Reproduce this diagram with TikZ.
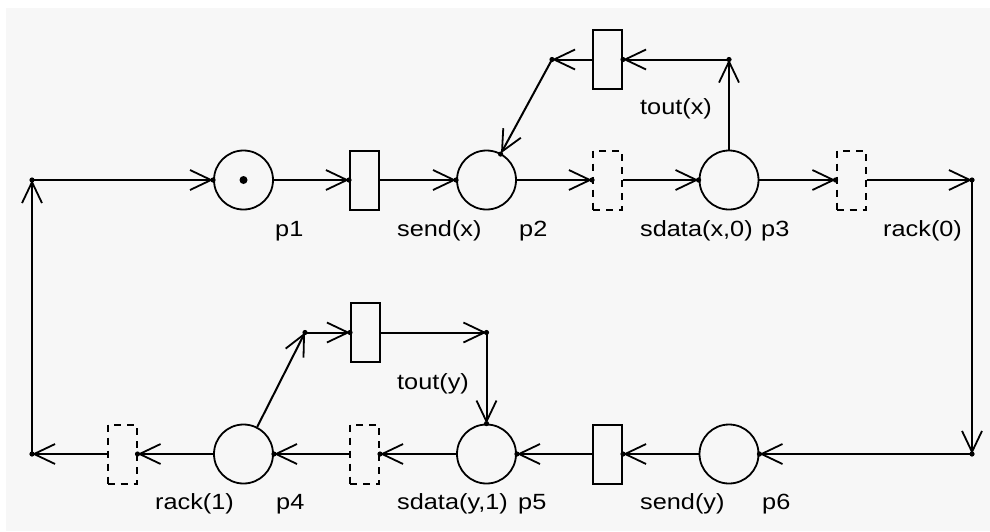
\documentclass[tikz,border=0pt]{standalone}
\usepackage{fontspec}
\setmainfont{Liberation Sans}[FakeStretch=1.15]
\usetikzlibrary{arrows.meta,calc}
\definecolor{bgc}{HTML}{F7F7F7}
\begin{document}
\begin{tikzpicture}[x=1pt,y=-1pt,
  place/.style={circle,draw,line width=1.8pt,minimum size=59pt,inner sep=0pt},
  trans/.style={rectangle,draw,line width=2pt,minimum width=29pt,minimum height=59pt,inner sep=0pt},
  ghost/.style={trans,dash pattern=on 7pt off 6pt},
  arc/.style={line width=2pt,-{Straight Barb[length=21pt,width=20pt,line width=1.8pt]}},
  lbl/.style={anchor=base west,inner sep=0pt,font=\fontsize{22}{26}\selectfont}]
\useasboundingbox (0,0) rectangle (990,531);
\fill[bgc] (6,8) rectangle (990,531);
% nodes
\node[place] (p1) at (243.5,180) {};
\fill (p1.center) circle (4);
\node[trans] (sendx) at (364.5,180) {};
\node[place] (p2) at (486.5,180) {};
\node[ghost] (sdx) at (607.5,180) {};
\node[place] (p3) at (729,180) {};
\node[ghost] (rack0) at (851,180) {};
\node[trans] (toutx) at (607.5,59.5) {};
\node[place] (p6) at (729,454) {};
\node[trans] (sendy) at (607.5,454) {};
\node[place] (p5) at (486.5,454) {};
\node[ghost] (sdy) at (364.5,454) {};
\node[place] (p4) at (243.5,454) {};
\node[ghost] (rack1) at (122,454) {};
\node[trans] (touty) at (365.5,332.5) {};
% corners
\coordinate (cTL) at (32,180);
\coordinate (cTR) at (972,180);
\coordinate (cBR) at (972,454);
\coordinate (cBL) at (32,454);
\coordinate (cx1) at (729,59.5);
\coordinate (cx2) at (552,59.5);
\coordinate (cy1) at (305,332.5);
\coordinate (cy2) at (486.5,332.5);
% arcs
\draw[arc] (cTL) -- (p1);
\draw[arc] (p1) -- (sendx);
\draw[arc] (sendx) -- (p2);
\draw[arc] (p2) -- (sdx);
\draw[arc] (sdx) -- (p3);
\draw[arc] (p3) -- (rack0);
\draw[arc] (rack0) -- (cTR);
\draw[arc] (cTR) -- (cBR);
\draw[arc] (cBR) -- (p6);
\draw[arc] (p6) -- (sendy);
\draw[arc] (sendy) -- (p5);
\draw[arc] (p5) -- (sdy);
\draw[arc] (sdy) -- (p4);
\draw[arc] (p4) -- (rack1);
\draw[arc] (rack1) -- (cBL);
\draw[arc] (cBL) -- (cTL);
\draw[arc] (p3) -- (cx1);
\draw[arc] (cx1) -- (toutx);
\draw[arc] (toutx) -- (cx2);
\draw[arc] (cx2) -- (p2);
\draw[arc] (p4) -- (cy1);
\draw[arc] (cy1) -- (touty);
\draw[arc] (touty) -- (cy2);
\draw[arc] (cy2) -- (p5);
% tip dots
\foreach \t in {cTL,p1.west,sendx.west,p2.west,sdx.west,p3.west,rack0.west,cTR,cBR,p6.east,sendy.east,p5.east,sdy.east,p4.east,rack1.east,cBL,cx1,toutx.east,cx2,cy1,touty.west,cy2,p5.north}
  \fill (\t) circle (2.6);
\fill ($(p2.center)!29.5pt!(cx2)$) circle (2.6);
% labels
\node[lbl] (lp1) at (275,236) {p1};
\node[lbl] (lsx) at (397,236) {send(x)};
\node[lbl] (lp2) at (519,236) {p2};
\node[lbl] (lsdx) at (640,236) {sdata(x,0)};
\node[lbl] (lp3) at (761,236) {p3};
\node[lbl] (lr0) at (883,236) {rack(0)};
\node[lbl] (ltx) at (640,114) {tout(x)};
\node[lbl] (lty) at (397,389) {tout(y)};
\node[lbl] (lr1) at (155,509) {rack(1)};
\node[lbl] (lp4) at (276,509) {p4};
\node[lbl] (lsdy) at (397,509) {sdata(y,1)};
\node[lbl] (lp5) at (518,509) {p5};
\node[lbl] (lsy) at (640,509) {send(y)};
\node[lbl] (lp6) at (762,509) {p6};
\end{tikzpicture}
\end{document}
